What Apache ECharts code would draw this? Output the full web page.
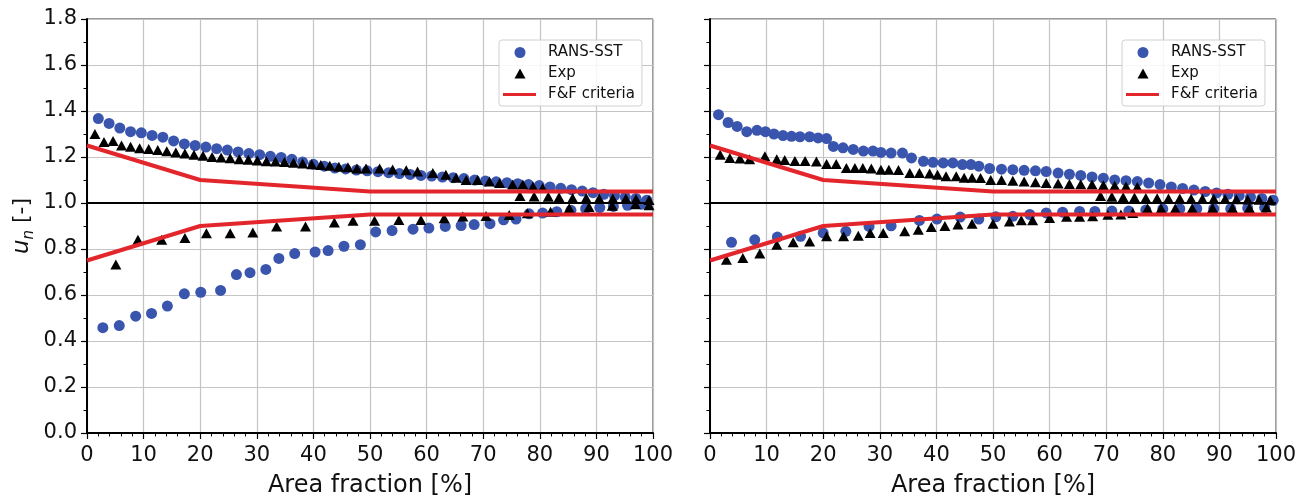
<!DOCTYPE html>
<html>
<head>
<meta charset="utf-8">
<script src="https://cdn.jsdelivr.net/npm/echarts@6/dist/echarts.min.js"></script>
<style>
  html, body { margin: 0; padding: 0; background: #fff; }
  #chart { width: 1308px; height: 496px; }
</style>
</head>
<body>
<div id="chart"></div>
<script>
// ---------- DATA ----------
const xTicks = [0, 10, 20, 30, 40, 50, 60, 70, 80, 90, 100];
const yTicks = [0.0, 0.2, 0.4, 0.6, 0.8, 1.0, 1.2, 1.4, 1.6, 1.8];

// F&F criteria (upper / lower bounds)
const ffUpper = [[0, 1.25], [20, 1.10], [50, 1.05], [100, 1.05]];
const ffLower = [[0, 0.75], [20, 0.90], [50, 0.95], [100, 0.95]];
const unityLine = [[0, 1.0], [100, 1.0]];

// Left panel - RANS-SST
const leftRansUpper = [
  [2.0,1.367],[3.9,1.346],[5.8,1.326],[7.7,1.31],[9.6,1.305],[11.5,1.294],[13.4,1.286],[15.3,1.27],
  [17.2,1.257],[19.1,1.25],[21.0,1.243],[22.9,1.236],[24.8,1.23],[26.7,1.222],[28.6,1.215],[30.5,1.21],
  [32.4,1.203],[34.3,1.198],[36.2,1.19],[38.1,1.178],[40.0,1.168],[41.9,1.16],[43.8,1.152],[45.7,1.148],
  [47.6,1.143],[49.5,1.14],[51.4,1.136],[53.3,1.132],[55.2,1.128],[57.1,1.124],[59.0,1.12],[60.9,1.117],
  [62.8,1.113],[64.7,1.11],[66.6,1.106],[68.5,1.10],[70.4,1.096],[72.3,1.092],[74.2,1.088],[76.1,1.084],
  [78.0,1.08],[79.9,1.076],[81.8,1.07],[83.7,1.064],[85.6,1.058],[87.5,1.052],[89.4,1.045],[91.3,1.038],
  [93.2,1.032],[95.1,1.026],[97.0,1.02],[98.9,1.012]
];
const leftRansLower = [
  [2.8,0.458],[5.7,0.467],[8.6,0.508],[11.4,0.52],[14.2,0.552],[17.2,0.605],[20.1,0.612],[23.6,0.62],
  [26.4,0.689],[28.8,0.697],[31.6,0.711],[33.9,0.759],[36.7,0.78],[40.3,0.787],[42.6,0.793],[45.4,0.812],
  [48.3,0.819],[51.0,0.874],[53.9,0.88],[57.6,0.886],[60.4,0.891],[63.3,0.898],[66.1,0.902],[68.4,0.906],
  [71.2,0.91],[73.6,0.927],[75.8,0.93],[78.1,0.953],[80.5,0.956],[83.0,0.962],[85.5,0.968],[88.1,0.975],
  [90.6,0.98],[93.0,0.985],[95.5,0.99],[98.0,0.995]
];
// Left panel - Exp
const leftExpUpper = [
  [1.4,1.30],[3.0,1.265],[4.6,1.27],[6.1,1.25],[7.7,1.245],[9.3,1.238],[10.9,1.235],[12.5,1.23],
  [14.1,1.225],[15.7,1.22],[17.3,1.215],[18.9,1.21],[20.5,1.205],[22.1,1.20],[23.7,1.198],[25.3,1.195],
  [26.9,1.19],[28.5,1.188],[30.1,1.185],[31.7,1.182],[33.3,1.18],[34.9,1.178],[36.5,1.175],[38.1,1.172],
  [39.7,1.168],[41.3,1.165],[42.9,1.162],[44.5,1.158],[46.1,1.155],[47.7,1.15],[49.3,1.15],[51.7,1.15],
  [54.0,1.146],[56.4,1.142],[58.4,1.137],[61.1,1.13],[63.4,1.123],[65.2,1.11],[67.0,1.10],[69.0,1.10],
  [71.1,1.094],[72.9,1.087],[75.2,1.08],[77.0,1.08],[78.8,1.072],[80.5,1.065],
  [76.5,1.03],[79.0,1.028],[81.5,1.027],[83.4,1.025],[85.8,1.022],[88.2,1.022],[90.5,1.02],[92.9,1.02],
  [95.2,1.02],[97.0,1.017],[99.3,1.013]
];
const leftExpLower = [
  [5.1,0.733],[9.0,0.84],[13.2,0.84],[17.3,0.848],[21.1,0.869],[25.3,0.869],[29.3,0.872],[33.5,0.898],
  [38.6,0.898],[43.7,0.915],[47.0,0.923],[50.8,0.923],[55.1,0.926],[59.0,0.926],[63.1,0.934],[66.4,0.941],
  [70.5,0.943],[74.6,0.948],[77.8,0.955],[81.9,0.962],[85.2,0.977],[88.7,0.983],[92.8,0.988],[96.9,0.995],
  [99.3,0.99]
];

// Right panel - RANS-SST
const rightRansUpper = [
  [1.5,1.384],[3.2,1.35],[4.8,1.333],[6.5,1.31],[8.3,1.316],[9.8,1.31],[11.3,1.30],[12.9,1.293],
  [14.4,1.29],[15.9,1.288],[17.6,1.288],[19.1,1.283],[20.6,1.28],[21.8,1.246],[23.5,1.24],[25.3,1.233],
  [27.1,1.226],[28.8,1.226],[30.2,1.22],[32.0,1.217],[34.0,1.217],[35.6,1.196],[37.7,1.181],[39.4,1.177],
  [41.2,1.174],[42.9,1.174],[44.6,1.167],[46.1,1.167],[47.5,1.16],[49.4,1.15],[51.5,1.147],[53.5,1.145],
  [55.5,1.142],[57.5,1.14],[59.4,1.137],[61.5,1.13],[63.5,1.125],[65.5,1.12],[67.5,1.113],[69.5,1.108],
  [71.5,1.10],[73.5,1.097],[75.5,1.093],[77.5,1.087],[79.5,1.08],[81.5,1.07],[83.5,1.063],[85.5,1.056],
  [87.5,1.05],[89.5,1.044],[91.5,1.038],[93.5,1.032],[95.5,1.026],[97.5,1.02],[99.5,1.012]
];
const rightRansLower = [
  [3.8,0.829],[7.9,0.84],[11.9,0.852],[16.0,0.855],[20.0,0.87],[24.0,0.877],[28.1,0.898],[32.0,0.901],
  [37.0,0.924],[40.1,0.93],[44.2,0.939],[47.5,0.93],[50.5,0.94],[53.5,0.942],[56.5,0.95],[59.4,0.957],
  [62.3,0.96],[65.3,0.963],[68.0,0.963],[71.0,0.965],[74.0,0.965],[77.0,0.97],[80.0,0.974],[83.0,0.975],
  [86.0,0.975],[89.0,0.975],[92.0,0.975],[95.0,0.978],[98.0,0.98]
];
// Right panel - Exp
const rightExpUpper = [
  [1.8,1.21],[3.5,1.196],[5.3,1.194],[7.0,1.19],[9.7,1.203],[11.8,1.19],[13.2,1.187],[15.0,1.183],
  [16.8,1.183],[18.8,1.18],[20.6,1.17],[22.3,1.17],[24.1,1.152],[25.6,1.152],[27.0,1.152],[28.5,1.15],
  [30.2,1.145],[31.6,1.145],[33.3,1.143],[35.3,1.13],[37.0,1.13],[38.8,1.128],[40.2,1.123],[41.7,1.116],
  [43.5,1.116],[44.9,1.11],[46.3,1.11],[47.8,1.109],[49.6,1.10],[51.5,1.10],[53.5,1.097],[55.5,1.094],
  [57.5,1.09],[59.4,1.087],[61.5,1.085],[63.5,1.083],[65.5,1.082],[67.5,1.08],[69.5,1.077],[71.5,1.075],
  [73.5,1.072],[75.5,1.07],
  [69.0,1.03],[71.0,1.027],[73.0,1.025],[75.0,1.024],[77.0,1.022],[79.0,1.021],[81.0,1.02],[83.0,1.02],
  [85.0,1.019],[87.0,1.018],[89.0,1.018],[91.0,1.017],[93.0,1.016],[95.0,1.015],[97.0,1.014],[99.0,1.012]
];
const rightExpLower = [
  [2.9,0.753],[5.8,0.761],[8.8,0.78],[11.8,0.819],[14.7,0.829],[17.6,0.833],[20.6,0.855],[23.6,0.855],
  [26.2,0.858],[28.3,0.87],[30.6,0.87],[34.4,0.877],[36.8,0.884],[39.1,0.896],[41.5,0.90],[43.8,0.906],
  [46.3,0.91],[50.0,0.91],[52.9,0.92],[55.0,0.925],[57.0,0.925],[60.0,0.935],[63.0,0.94],[65.3,0.94],
  [67.6,0.942],[70.3,0.949],[72.6,0.95],[74.7,0.957],[77.3,0.976],[79.7,0.976],[82.2,0.976],[85.2,0.977],
  [88.8,0.978],[92.3,0.978],[95.3,0.978],[98.3,0.98]
];

// ---------- STYLE ----------
const FONT = 'DejaVu Sans';
const BLUE = '#3a55ae';
const RED = '#e3262b';
const GRIDC = '#c4c4c4';

// legend icons (40 x 11 box, symbol drawn at left part)
const ICON_CIRCLE = 'path://M0,0 M11.5,5.5 A5.5,5.5 0 1 1 22.5,5.5 A5.5,5.5 0 1 1 11.5,5.5 Z M40,11';
const ICON_TRI = 'path://M0,0 M17,0.5 L22.5,10.5 L11.5,10.5 Z M40,11';
const ICON_LINE = 'path://M0,0 M0,4 L33,4 L33,7 L0,7 Z M40,11';

const chart = echarts.init(document.getElementById('chart'), null, { renderer: 'canvas' });

function xAxisCfg(idx) {
  return {
    type: 'value', gridIndex: idx, min: xTicks[0], max: xTicks[xTicks.length - 1],
    interval: xTicks[1] - xTicks[0],
    name: 'Area fraction [%]', nameLocation: 'middle', nameGap: 41,
    nameTextStyle: { fontFamily: FONT, fontSize: 24, color: '#111' },
    axisLine: { show: true, onZero: false, lineStyle: { color: '#000', width: 2 } },
    axisTick: { show: true, inside: false, length: 6, lineStyle: { color: '#000', width: 1.2 } },
    minorTick: { show: true, splitNumber: 5, length: 3.5, lineStyle: { color: '#000', width: 1 } },
    axisLabel: { fontFamily: FONT, fontSize: 21, color: '#111', margin: 12 },
    splitLine: { show: true, lineStyle: { color: GRIDC, width: 1.2 } }
  };
}
function yAxisCfg(idx, showLabel) {
  const c = {
    type: 'value', gridIndex: idx, min: yTicks[0], max: yTicks[yTicks.length - 1],
    interval: 0.2,
    axisLine: { show: true, onZero: false, lineStyle: { color: '#000', width: 2 } },
    axisTick: { show: true, inside: false, length: 6, lineStyle: { color: '#000', width: 1.2 } },
    minorTick: { show: true, splitNumber: 2, length: 3.5, lineStyle: { color: '#000', width: 1 } },
    axisLabel: { show: showLabel, fontFamily: FONT, fontSize: 21, color: '#111', margin: 10,
                 padding: [3, 0, 0, 0], formatter: v => v.toFixed(1) },
    splitLine: { show: true, lineStyle: { color: GRIDC, width: 1.2 } }
  };
  if (showLabel) {
    c.name = '{u|u}{n|n}{t| [-]}';
    c.nameLocation = 'middle';
    c.nameRotate = 90;
    c.nameGap = 50;
    c.nameTextStyle = {
      fontFamily: FONT, fontSize: 22, color: '#111',
      rich: {
        u: { fontFamily: FONT, fontSize: 23, fontStyle: 'italic', color: '#111', lineHeight: 30, verticalAlign: 'middle' },
        n: { fontFamily: FONT, fontSize: 15, fontStyle: 'italic', color: '#111', lineHeight: 30, verticalAlign: 'bottom' },
        t: { fontFamily: FONT, fontSize: 22, color: '#111', lineHeight: 30, verticalAlign: 'middle' }
      }
    };
  }
  return c;
}

function legendCfg(left) {
  const ts = { fontFamily: FONT, fontSize: 15, color: '#111' };
  return {
    left: left, top: 40, orient: 'vertical',
    backgroundColor: 'rgba(255,255,255,0.85)',
    borderColor: '#d0d0d0', borderWidth: 1, borderRadius: 3,
    padding: [5, 7, 4, 4],
    itemWidth: 40, itemHeight: 11, itemGap: 6,
    symbolKeepAspect: true,
    textStyle: ts,
    data: [
      { name: 'RANS-SST', icon: ICON_CIRCLE, textStyle: ts },
      { name: 'Exp', icon: ICON_TRI, textStyle: ts },
      { name: 'F&F criteria', icon: ICON_LINE, textStyle: ts }
    ]
  };
}

function panelSeries(idx, ransU, ransL, expU, expL) {
  return [
    { name: 'RANS-SST', type: 'scatter', xAxisIndex: idx, yAxisIndex: idx,
      symbol: 'circle', symbolSize: 11, itemStyle: { color: BLUE, opacity: 1 },
      data: ransU.concat(ransL), z: 2 },
    { name: 'Exp', type: 'scatter', xAxisIndex: idx, yAxisIndex: idx,
      symbol: 'triangle', symbolSize: [11, 10], itemStyle: { color: '#000', opacity: 1 },
      data: expU.concat(expL), z: 2 },
    { name: 'unity', type: 'line', xAxisIndex: idx, yAxisIndex: idx, symbol: 'none',
      lineStyle: { color: '#000', width: 2.2 }, data: unityLine, z: 3, silent: true },
    { name: 'F&F criteria', type: 'line', xAxisIndex: idx, yAxisIndex: idx, symbol: 'none',
      itemStyle: { color: RED }, lineStyle: { color: RED, width: 4 }, data: ffUpper, z: 3 },
    { name: 'F&F criteria', type: 'line', xAxisIndex: idx, yAxisIndex: idx, symbol: 'none',
      itemStyle: { color: RED }, lineStyle: { color: RED, width: 4 }, data: ffLower, z: 3 }
  ];
}

const gridBase = { top: 19, width: 566, height: 414, show: true, borderColor: '#333', borderWidth: 1,
                   backgroundColor: 'transparent', containLabel: false, outerBoundsMode: 'none' };

const option = {
  animation: false,
  backgroundColor: '#fff',
  grid: [
    Object.assign({ left: 87 }, gridBase),
    Object.assign({ left: 710 }, gridBase)
  ],
  xAxis: [xAxisCfg(0), xAxisCfg(1)],
  yAxis: [yAxisCfg(0, true), yAxisCfg(1, false)],
  legend: [legendCfg(499), legendCfg(1122)],
  series: panelSeries(0, leftRansUpper, leftRansLower, leftExpUpper, leftExpLower)
    .concat(panelSeries(1, rightRansUpper, rightRansLower, rightExpUpper, rightExpLower))
};
chart.setOption(option);
</script>
</body>
</html>
